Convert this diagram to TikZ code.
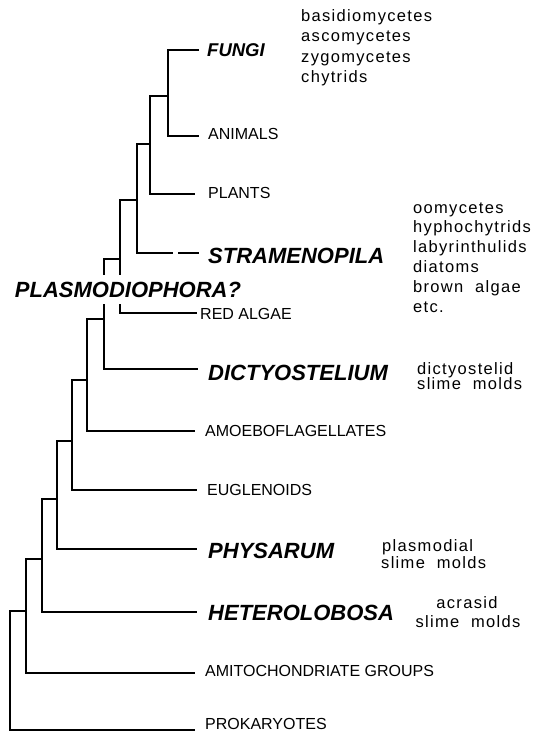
\documentclass[tikz,border=0pt]{standalone}
\usepackage{fontspec}
\setmainfont{Liberation Sans}
\newfontfamily\descfont[LetterSpace=8]{Liberation Sans}
\begin{document}
\begin{tikzpicture}[x=1pt,y=-1pt,
  br/.style={line width=2.2pt},
  thinbr/.style={line width=1.2pt},
  lab/.style={anchor=west, inner sep=0pt, text depth=0pt, font=\fontsize{16}{19}\selectfont},
  gen/.style={anchor=west, inner sep=0pt, text depth=0pt, font=\fontsize{22}{26}\selectfont\bfseries\itshape},
  desc/.style={anchor=base west, inner sep=0pt, font=\fontsize{16.5}{19}\selectfont\descfont}]
\useasboundingbox (0,0) rectangle (534,736);

% leaf tips
\coordinate (fungi) at (199,50);
\coordinate (animals) at (199,136);
\coordinate (plants) at (195,194);
\coordinate (strA) at (173,253);
\coordinate (strB) at (178,253);
\coordinate (strameno) at (199,253);
\coordinate (redalgae) at (197,313);
\coordinate (dicty) at (198,369);
\coordinate (amoebo) at (195,431);
\coordinate (eugleno) at (197,490);
\coordinate (physarum) at (197,549);
\coordinate (hetero) at (197,612);
\coordinate (amito) at (195,673);
\coordinate (prok) at (195,730);
% internal nodes
\coordinate (c1) at (168,96);
\coordinate (c2) at (150,144);
\coordinate (c3) at (137,200);
\coordinate (c4) at (120,259);
\coordinate (g4a) at (120,275);
\coordinate (g4b) at (120,304);
\coordinate (g5a) at (104,275);
\coordinate (g5b) at (104,304);
\coordinate (c5) at (104,319);
\coordinate (c6) at (87,380);
\coordinate (c7) at (72,441);
\coordinate (c8) at (57,499);
\coordinate (c9) at (42,559);
\coordinate (c10) at (26,611);
\coordinate (root) at (10,611);

% tree
\draw[br] (fungi) -| (c1) |- (animals);
\draw[br] (c1) -| (c2) |- (plants);
\draw[br] (c2) -| (c3) |- (strA);
\draw[br] (strB) -- (strameno);
\draw[br] (c3) -| (c4) -- (g4a);
\draw[thinbr] (g4b) |- (redalgae);
\draw[br] (c4) -| (g5a);
\draw[br] (g5b) -- (c5) |- (dicty);
\draw[br] (c5) -| (c6) |- (amoebo);
\draw[br] (c6) -| (c7) |- (eugleno);
\draw[br] (c7) -| (c8) |- (physarum);
\draw[br] (c8) -| (c9) |- (hetero);
\draw[br] (c9) -| (c10) |- (amito);
\draw[br] (c10) -- (root) |- (prok);

% labels
\node[gen, font=\fontsize{18.5}{21}\selectfont\bfseries\itshape] (lfungi) at (207,50) {FUNGI};
\node[lab] (lanimals) at (208,134) {ANIMALS};
\node[lab] (lplants) at (208,193) {PLANTS};
\node[gen] (lstrameno) at (208,256) {STRAMENOPILA};
\node[gen, anchor=center] (lplasmo) at (128,290) {PLASMODIOPHORA?};
\node[lab] (lredalgae) at (200,314) {RED ALGAE};
\node[gen] (ldicty) at (208,373) {DICTYOSTELIUM};
\node[lab] (lamoebo) at (205,431) {AMOEBOFLAGELLATES};
\node[lab] (leugleno) at (207,490) {EUGLENOIDS};
\node[gen] (lphysarum) at (208,551) {PHYSARUM};
\node[gen] (lhetero) at (208,613) {HETEROLOBOSA};
\node[lab] (lamito) at (205,671) {AMITOCHONDRIATE GROUPS};
\node[lab] (lprok) at (205,724) {PROKARYOTES};

% descriptions
\node[desc] (f1) at (301,21) {basidiomycetes};
\node[desc] (f2) at (301,41.5) {ascomycetes};
\node[desc] (f3) at (301,62) {zygomycetes};
\node[desc] (f4) at (301,82.5) {chytrids};
\node[desc] (s1) at (413,213) {oomycetes};
\node[desc] (s2) at (413,232.8) {hyphochytrids};
\node[desc] (s3) at (413,252.6) {labyrinthulids};
\node[desc] (s4) at (413,272.4) {diatoms};
\node[desc] (s5) at (413,292.2) {brown\ \ algae};
\node[desc] (s6) at (413,312) {etc.};
\node[desc] (d1) at (417,374) {dictyostelid};
\node[desc] (d2) at (417,389) {slime\ \ molds};
\node[desc] (p1) at (382,551) {plasmodial};
\node[desc] (p2) at (381,568) {slime\ \ molds};
\node[desc, anchor=base] (a1) at (467,608) {acrasid};
\node[desc, anchor=base] (a2) at (468,627) {slime\ \ molds};
\end{tikzpicture}
\end{document}
